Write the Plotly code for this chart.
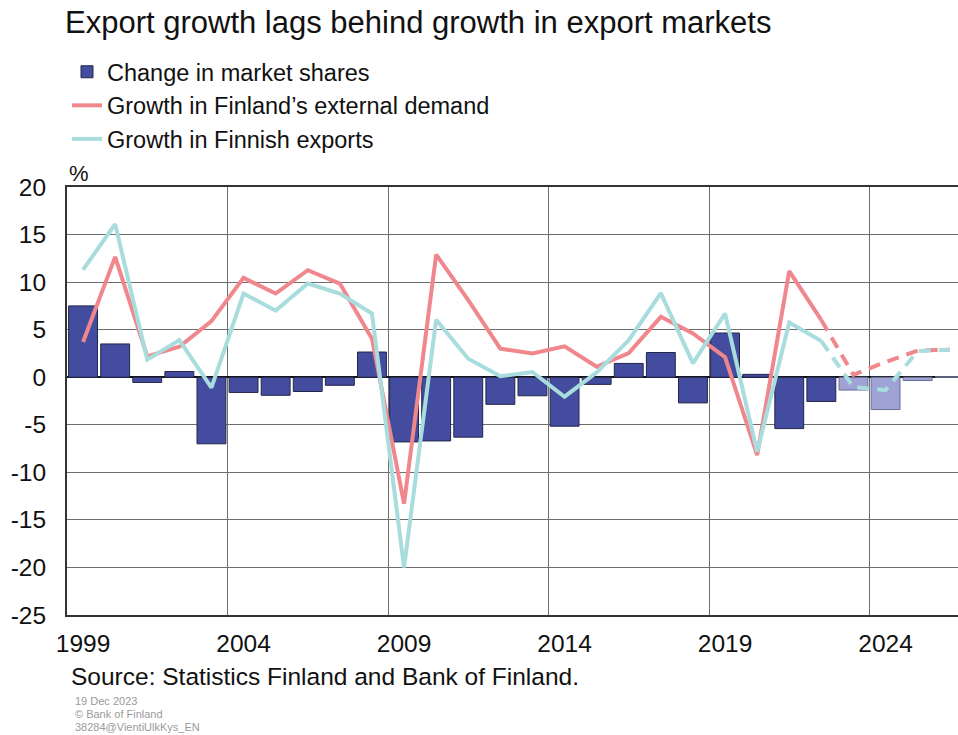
import plotly.graph_objects as go

years = [1999, 2000, 2001, 2002, 2003, 2004, 2005, 2006, 2007, 2008,
         2009, 2010, 2011, 2012, 2013, 2014, 2015, 2016, 2017, 2018,
         2019, 2020, 2021, 2022, 2023, 2024, 2025, 2026]

market_shares = [7.5, 3.5, -0.55, 0.6, -7.0, -1.6, -1.9, -1.5, -0.85, 2.65,
                 -6.8, -6.7, -6.3, -2.85, -1.95, -5.15, -0.75, 1.45, 2.6, -2.7,
                 4.65, 0.3, -5.4, -2.55, -1.35, -3.4, -0.35, 0.05]

external_demand = [3.7, 12.65, 2.2, 3.2, 5.9, 10.45, 8.8, 11.25, 9.85, 4.05,
                   -13.3, 12.9, 8.1, 3.0, 2.5, 3.25, 1.1, 2.55, 6.35, 4.6,
                   2.1, -8.2, 11.15, 6.0, 0.25, 1.6, 2.8, 2.9]

finnish_exports = [11.3, 16.1, 1.85, 3.9, -1.1, 8.8, 7.0, 9.85, 8.8, 6.7,
                   -20.0, 6.05, 1.95, 0.1, 0.55, -2.05, 0.5, 3.9, 8.85, 1.45,
                   6.7, -7.85, 5.75, 3.8, -1.05, -1.35, 2.75, 2.9]

forecast_start = 2023
last_actual_idx = years.index(2022)

xtick_vals = [1999, 2004, 2009, 2014, 2019, 2024]
ytick_vals = [-25, -20, -15, -10, -5, 0, 5, 10, 15, 20]

BAR_DARK = "#434C9E"
BAR_LIGHT = "#9EA2D5"
RED = "#F0878D"
CYAN = "#A8DCDD"
FONT = "Liberation Sans, Arial, sans-serif"
TXT = "#111111"

bar_colors = [BAR_LIGHT if y >= forecast_start else BAR_DARK for y in years]
bar_lines = ["#6A6E90" if y >= forecast_start else "#23264A" for y in years]

fig = go.Figure()

fig.add_trace(go.Bar(
    x=years, y=market_shares, name="Change in market shares",
    marker=dict(color=bar_colors, line=dict(color=bar_lines, width=1)),
    width=0.9, legendrank=1,
))

fig.add_trace(go.Scatter(
    x=years[:last_actual_idx + 1], y=external_demand[:last_actual_idx + 1],
    mode="lines", name="Growth in Finland\u2019s external demand",
    line=dict(color=RED, width=4), legendrank=2,
))
fig.add_trace(go.Scatter(
    x=years[last_actual_idx:], y=external_demand[last_actual_idx:],
    mode="lines", showlegend=False,
    line=dict(color=RED, width=4, dash="12px,8px"),
))

fig.add_trace(go.Scatter(
    x=years[:last_actual_idx + 1], y=finnish_exports[:last_actual_idx + 1],
    mode="lines", name="Growth in Finnish exports",
    line=dict(color=CYAN, width=4), legendrank=3,
))
fig.add_trace(go.Scatter(
    x=years[last_actual_idx:], y=finnish_exports[last_actual_idx:],
    mode="lines", showlegend=False,
    line=dict(color=CYAN, width=4, dash="12px,8px"),
))

W, H = 958, 735
PL = 67
PT = 187
PB = H - 615
plot_w = W - PL
plot_h = H - PT - PB


def py(ref_y):
    return (H - PB - ref_y) / plot_h


def px(ref_x):
    return (ref_x - PL) / plot_w


small = dict(family=FONT, size=11, color="#9A9A9A")

fig.update_layout(
    width=W, height=H,
    margin=dict(l=PL, r=0, t=PT, b=PB, pad=0),
    paper_bgcolor="white", plot_bgcolor="white",
    font=dict(family=FONT, size=24, color=TXT),
    title=dict(
        text="Export growth lags behind growth in export markets",
        font=dict(family=FONT, size=31, color=TXT),
        x=65 / W, xanchor="left", xref="container",
        y=1 - 22 / H, yanchor="middle", yref="container",
    ),
    barmode="overlay",
    showlegend=True,
    legend=dict(
        x=px(67), xanchor="left",
        y=py(50), yanchor="top",
        font=dict(family=FONT, size=23.5, color=TXT),
        itemwidth=30, tracegroupgap=0,
        bgcolor="rgba(0,0,0,0)", borderwidth=0,
        traceorder="normal",
    ),
    xaxis=dict(
        range=[1998.5, 1998.5 + plot_w / 32.1],
        tickmode="array", tickvals=xtick_vals,
        ticktext=[str(v) for v in xtick_vals],
        showgrid=False, ticks="", ticklabelstandoff=6,
        showline=True, linecolor="#333333", linewidth=2, mirror=True,
        minor=dict(tickmode="array",
                   tickvals=[v - 0.5 for v in xtick_vals[1:]],
                   showgrid=True, gridcolor="#6E6E6E", gridwidth=1.3, ticks=""),
        tickfont=dict(size=24.5, color=TXT),
        zeroline=False, fixedrange=True,
    ),
    yaxis=dict(
        range=[-25, 20], tickmode="array", tickvals=ytick_vals,
        ticktext=[str(v) for v in ytick_vals],
        showgrid=True, gridcolor="#6E6E6E", gridwidth=1.3,
        zeroline=True, zerolinecolor="#111111", zerolinewidth=2,
        showline=True, linecolor="#333333", linewidth=2, mirror=False,
        ticks="", ticklabelstandoff=14,
        tickfont=dict(size=24.5, color=TXT),
        fixedrange=True,
    ),
    annotations=[
        dict(text="%", xref="paper", yref="paper",
             x=px(67), y=py(173), xanchor="left", yanchor="middle",
             showarrow=False, font=dict(family=FONT, size=22, color=TXT)),
        dict(text="Source: Statistics Finland and Bank of Finland.",
             xref="paper", yref="paper",
             x=px(69), y=py(676),
             xanchor="left", yanchor="middle", showarrow=False,
             font=dict(family=FONT, size=24.5, color=TXT)),
        dict(text="19 Dec 2023", xref="paper", yref="paper",
             x=px(73), y=py(701), xanchor="left", yanchor="middle",
             showarrow=False, font=small),
        dict(text="\u00a9 Bank of Finland", xref="paper", yref="paper",
             x=px(73), y=py(714), xanchor="left", yanchor="middle",
             showarrow=False, font=small),
        dict(text="38284@VientiUlkKys_EN", xref="paper", yref="paper",
             x=px(73), y=py(727), xanchor="left", yanchor="middle",
             showarrow=False, font=small),
    ],
)

fig.write_html(
    "out.html",
    config={"displayModeBar": False},
    post_script="document.body.style.margin='0';document.body.style.overflow='hidden';",
)
